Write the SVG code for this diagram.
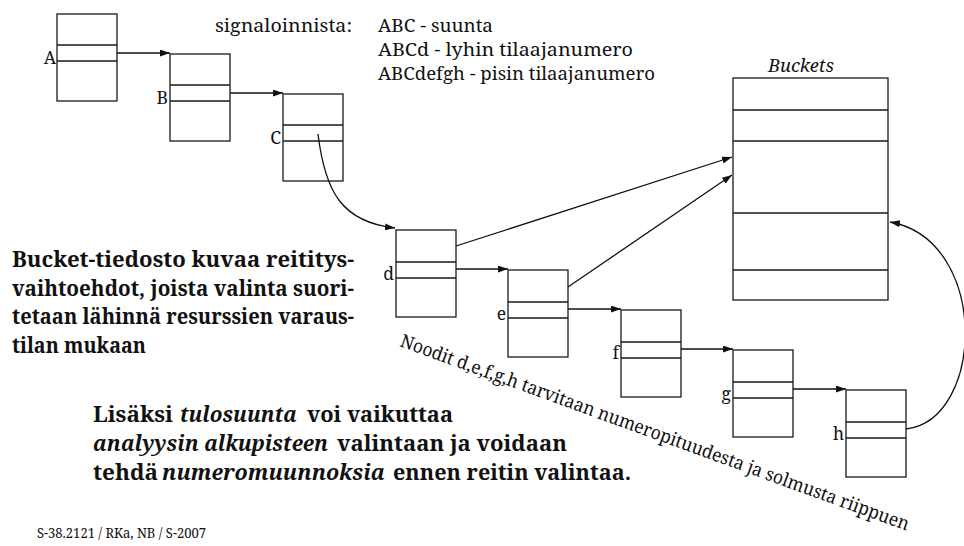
<svg xmlns="http://www.w3.org/2000/svg" width="964" height="546" viewBox="0 0 964 546">
<style>
.box{fill:#fff;stroke:#1a1a1a;stroke-width:1.3}
.sep{fill:none;stroke:#1a1a1a;stroke-width:1.3}
.con{fill:none;stroke:#111;stroke-width:1.3}
text{font-family:'Noto Serif','Liberation Serif','Times New Roman',serif;fill:#111}
.lbl{font-size:17.5px;text-anchor:end}
.b{font-weight:bold}
.i{font-style:italic}
.big{font-size:21.3px;font-weight:bold}
</style>
<defs>
<marker id="ah" markerUnits="userSpaceOnUse" markerWidth="10" markerHeight="8" refX="10" refY="3.5" orient="auto">
<path d="M0,0 L10,3.5 L0,7 z" fill="#111"/>
</marker>
</defs>
<rect width="964" height="546" fill="#fff"/>

<g id="nodeA"><rect class="box" x="57" y="14" width="60" height="87"/><path class="sep" d="M57,45H117M57,61H117"/><text class="lbl" x="56" y="64">A</text></g>
<g id="nodeB"><rect class="box" x="170" y="54" width="60" height="87"/><path class="sep" d="M170,85H230M170,101H230"/><text class="lbl" x="168" y="104">B</text></g>
<g id="nodeC"><rect class="box" x="283" y="94" width="60" height="87"/><path class="sep" d="M283,125H343M283,141H343"/><text class="lbl" x="281" y="144">C</text></g>
<g id="noded"><rect class="box" x="396" y="230" width="60" height="87"/><path class="sep" d="M396,262H456M396,278H456"/><text class="lbl" x="394" y="280">d</text></g>
<g id="nodee"><rect class="box" x="508" y="270" width="60" height="87"/><path class="sep" d="M508,302H568M508,318H568"/><text class="lbl" x="506" y="320">e</text></g>
<g id="nodef"><rect class="box" x="621" y="310" width="60" height="87"/><path class="sep" d="M621,342H681M621,358H681"/><text class="lbl" x="619" y="359">f</text></g>
<g id="nodeg"><rect class="box" x="733" y="350" width="60" height="87"/><path class="sep" d="M733,382H793M733,398H793"/><text class="lbl" x="731" y="400">g</text></g>
<g id="nodeh"><rect class="box" x="846" y="390" width="60" height="87"/><path class="sep" d="M846,422H906M846,438H906"/><text class="lbl" x="844" y="440">h</text></g>

<g id="buckets">
<text class="i" x="768" y="72" font-size="18.5" textLength="66" lengthAdjust="spacingAndGlyphs">Buckets</text>
<rect class="box" x="733" y="78" width="155" height="222"/>
<path class="sep" d="M733,110H888M733,141H888M733,213H888M733,270H888"/>
</g>

<g id="connectors">
<path class="con" marker-end="url(#ah)" d="M117,53H170"/>
<path class="con" marker-end="url(#ah)" d="M230,93H283"/>
<path class="con" marker-end="url(#ah)" d="M318,134C325,192 342,222 395,228"/>
<path class="con" marker-end="url(#ah)" d="M456,269H508"/>
<path class="con" marker-end="url(#ah)" d="M568,309H621"/>
<path class="con" marker-end="url(#ah)" d="M681,349H733"/>
<path class="con" marker-end="url(#ah)" d="M793,389H846"/>
<path class="con" marker-end="url(#ah)" d="M456,246L732,157"/>
<path class="con" marker-end="url(#ah)" d="M568,287L732,175"/>
<path class="con" marker-end="url(#ah)" d="M906,429C985,420 990,240 890,222"/>
</g>

<g id="texts">
<text x="215" y="32" font-size="17.5" textLength="137" lengthAdjust="spacingAndGlyphs">signaloinnista:</text>
<text x="378" y="32" font-size="17.5" textLength="115" lengthAdjust="spacingAndGlyphs">ABC - suunta</text>
<text x="378" y="56" font-size="17.5" textLength="255" lengthAdjust="spacingAndGlyphs">ABCd - lyhin tilaajanumero</text>
<text x="378" y="80" font-size="17.5" textLength="277" lengthAdjust="spacingAndGlyphs">ABCdefgh - pisin tilaajanumero</text>

<text class="b" x="12" y="267" font-size="20.8" textLength="342" lengthAdjust="spacingAndGlyphs">Bucket-tiedosto kuvaa reititys-</text>
<text class="b" x="12" y="295.5" font-size="20.8" textLength="342" lengthAdjust="spacingAndGlyphs">vaihtoehdot, joista valinta suori-</text>
<text class="b" x="12" y="324" font-size="20.8" textLength="342" lengthAdjust="spacingAndGlyphs">tetaan lähinnä resurssien varaus-</text>
<text class="b" x="12" y="352.5" font-size="20.8" textLength="134" lengthAdjust="spacingAndGlyphs">tilan mukaan</text>

<text class="big" x="93" y="422" textLength="80" lengthAdjust="spacingAndGlyphs">Lisäksi</text>
<text class="big i" x="180" y="422" textLength="117" lengthAdjust="spacingAndGlyphs">tulosuunta</text>
<text class="big" x="307" y="422" textLength="146" lengthAdjust="spacingAndGlyphs">voi vaikuttaa</text>
<text class="big i" x="93" y="451" textLength="235" lengthAdjust="spacingAndGlyphs">analyysin alkupisteen</text>
<text class="big" x="337" y="451" textLength="230" lengthAdjust="spacingAndGlyphs">valintaan ja voidaan</text>
<text class="big" x="93" y="480" textLength="65" lengthAdjust="spacingAndGlyphs">tehdä</text>
<text class="big i" x="162" y="480" textLength="223" lengthAdjust="spacingAndGlyphs">numeromuunnoksia</text>
<text class="big" x="393" y="480" textLength="238" lengthAdjust="spacingAndGlyphs">ennen reitin valintaa.</text>

<text transform="translate(399,346) rotate(20)" font-size="18.5" textLength="540" lengthAdjust="spacingAndGlyphs">Noodit d,e,f,g,h tarvitaan numeropituudesta ja solmusta riippuen</text>

<text x="37" y="538" font-size="14" textLength="169" lengthAdjust="spacingAndGlyphs">S-38.2121 / RKa, NB / S-2007</text>
</g>
</svg>
